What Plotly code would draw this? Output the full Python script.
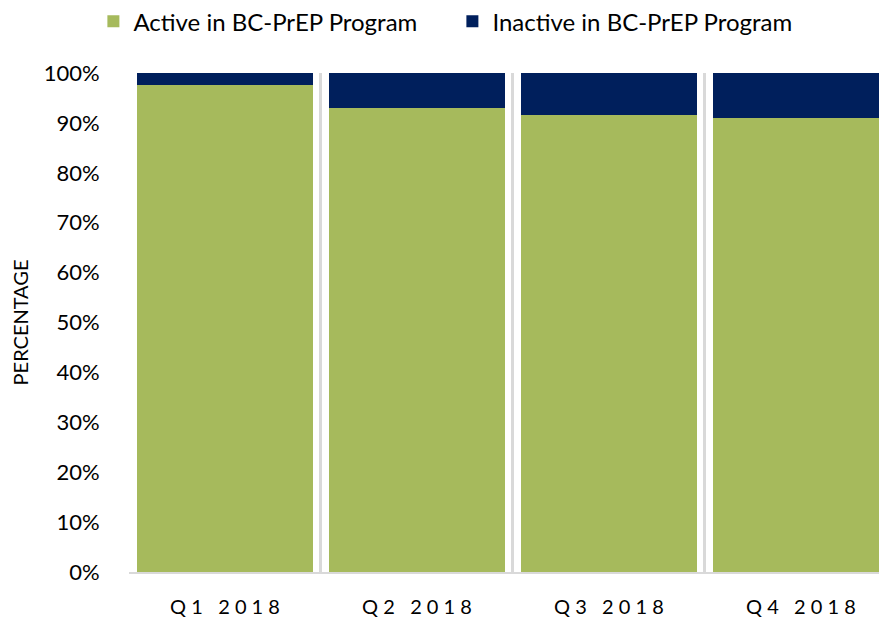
import plotly.graph_objects as go

quarters = ["Q1 2018", "Q2 2018", "Q3 2018", "Q4 2018"]
active = [0.976, 0.930, 0.916, 0.910]
inactive = [0.024, 0.070, 0.084, 0.090]
y_ticks = [0, 0.1, 0.2, 0.3, 0.4, 0.5, 0.6, 0.7, 0.8, 0.9, 1.0]

GREEN = "#A6BA5C"
NAVY = "#001F5C"
FONT = "Lato"


def spaced(label):
    return "\u00a0".join("\u00a0" if ch == " " else ch for ch in label)


fig = go.Figure()
fig.add_trace(go.Bar(x=quarters, y=active, name="Active in BC-PrEP Program",
                     marker=dict(color=GREEN, line=dict(width=0))))
fig.add_trace(go.Bar(x=quarters, y=inactive, name="Inactive in BC-PrEP Program",
                     marker=dict(color=NAVY, line=dict(width=0))))

fig.update_layout(
    width=887, height=621,
    barmode="stack",
    bargap=0.08,
    plot_bgcolor="white",
    paper_bgcolor="white",
    margin=dict(l=121, r=0, t=65, b=57),
    font=dict(family=FONT, color="#000000"),
    legend=dict(
        orientation="h",
        xref="container", yref="container",
        x=0.501, xanchor="center",
        y=0.978, yanchor="middle",
        font=dict(size=24, family=FONT),
        entrywidth=314,
        entrywidthmode="pixels",
        traceorder="normal",
    ),
    xaxis=dict(
        type="category",
        range=[-0.5, 3.49],
        tickmode="array",
        tickvals=quarters,
        ticktext=[spaced(q) for q in quarters],
        tickson="boundaries",
        showgrid=True,
        gridcolor="#D9D9D9",
        gridwidth=3,
        showline=True,
        linecolor="#D9D9D9",
        linewidth=2,
        ticks="",
        ticklabelstandoff=16,
        tickfont=dict(size=20, family=FONT),
    ),
    yaxis=dict(
        range=[0, 1.0],
        tickmode="array",
        tickvals=y_ticks,
        tickformat=".0%",
        showgrid=False,
        zeroline=False,
        showline=False,
        ticks="outside",
        ticklen=24,
        tickcolor="rgba(0,0,0,0)",
        tickfont=dict(size=22, family=FONT),
        title=dict(text="PERCENTAGE", font=dict(size=20, family=FONT), standoff=18),
    ),
)

fig.write_html("out.html")
